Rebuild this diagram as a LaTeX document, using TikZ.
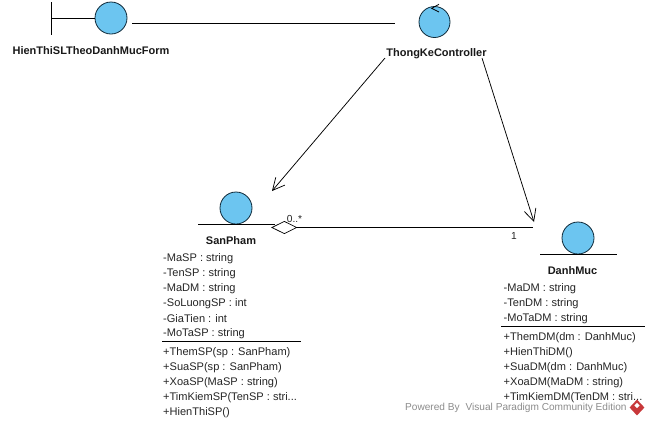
\documentclass[tikz,border=0pt]{standalone}
\usepackage{fontspec}
\setmainfont{Liberation Sans}
\usetikzlibrary{arrows.meta,shapes.geometric}
\definecolor{ballfill}{HTML}{6CC5F0}
\definecolor{ballline}{HTML}{0F2A3A}
\definecolor{wm}{HTML}{8C8C8C}
\definecolor{logored}{HTML}{C8383A}
\tikzset{
  x=1pt,y=-1pt,
  ball/.style={circle,draw=ballline,fill=ballfill,line width=0.8pt,inner sep=0pt,minimum size=#1},
  ball/.default=32pt,
  titlelabel/.style={inner sep=0pt,font=\fontsize{11}{12}\selectfont\bfseries,text=black!90},
  member/.style={inner sep=0pt,anchor=west,font=\fontsize{11.05}{12}\selectfont,text=black!85},
  rule/.style={line width=0.8pt,black},
  assoc/.style={line width=0.75pt,black},
  nav/.style={line width=0.75pt,black,-{Straight Barb[length=12pt,width=12pt,line width=0.75pt]}},
  mult/.style={inner sep=0pt,font=\fontsize{10.2}{12}\selectfont,text=black!85},
}
\begin{document}
\begin{tikzpicture}
\useasboundingbox (0,0) rectangle (649,424);
\fill[white] (0,0) rectangle (649,424);

% Boundary
\node[ball] (form) at (111,18) {};
\coordinate (formbar) at (51.5,18);
\draw[rule] (51.5,2) -- (51.5,35);
\draw[rule] (formbar) -- (form.west);
\node[titlelabel] (formlabel) at (91,50.8) {HienThiSLTheoDanhMucForm};

% Control
\node[ball=31pt] (ctrl) at (434.5,22) {};
\draw[rule] (439,4.3) -- (431.7,8.3) -- (439,12);
\node[titlelabel] (ctrllabel) at (436.5,53.3) {ThongKeController};

% SanPham
\node[ball] (sp) at (236,208) {};
\draw[rule] (198,224.5) -- (275,224.5);
\node[titlelabel] (splabel) at (231,241) {SanPham};
\foreach \n/\y/\t in {
  a1/258.3/{-MaSP : string},
  a2/273.3/{-TenSP : string},
  a3/288.3/{-MaDM : string},
  a4/303.3/{-SoLuongSP : int},
  a5/318.3/{-GiaTien : int},
  a6/333.3/{-MoTaSP : string},
  m1/352.3/{+ThemSP(sp : SanPham)},
  m2/367.3/{+SuaSP(sp : SanPham)},
  m3/382.3/{+XoaSP(MaSP : string)},
  m4/397.3/{+TimKiemSP(TenSP : stri...},
  m5/412.3/{+HienThiSP()}}
  \node[member] (sp\n) at (163,\y) {\t};
\draw[rule] (162,341.5) -- (301,341.5);

% DanhMuc
\node[ball] (dm) at (578,238) {};
\draw[rule] (540,254.5) -- (617,254.5);
\node[titlelabel] (dmlabel) at (572.5,271) {DanhMuc};
\foreach \n/\y/\t in {
  a1/288.3/{-MaDM : string},
  a2/303.3/{-TenDM : string},
  a3/318.3/{-MoTaDM : string},
  m1/337.3/{+ThemDM(dm : DanhMuc)},
  m2/352.3/{+HienThiDM()},
  m3/367.3/{+SuaDM(dm : DanhMuc)},
  m4/382.3/{+XoaDM(MaDM : string)},
  m5/397.3/{+TimKiemDM(TenDM : stri...}}
  \node[member] (dm\n) at (503.5,\y) {\t};
\draw[rule] (501,326.5) -- (645,326.5);

% Connectors
\coordinate (formend) at (132,23.5);
\coordinate (ctrlend) at (395,23.5);
\draw[assoc] (formend) -- (ctrlend);

\coordinate (navstartA) at (385,58);
\coordinate (navendA) at (272,191);
\draw[nav] (navstartA) -- (navendA);
\coordinate (navstartB) at (482,58);
\coordinate (navendB) at (534,222);
\draw[nav] (navstartB) -- (navendB);

\node[diamond,draw=black,fill=white,line width=0.7pt,inner sep=0pt,minimum width=25pt,minimum height=12.5pt] (agg) at (284.3,227.5) {};
\coordinate (aggend) at (533,227.5);
\draw[assoc] (agg.east) -- (aggend);
\node[mult] (m0) at (294.5,219) {0..*};
\node[mult] (m1) at (514,236) {1};

% Watermark
\node[inner sep=0pt,anchor=west,font=\fontsize{10.1}{12}\selectfont,text=wm] (wmtext) at (405,408) {Powered By\hspace{6pt}Visual Paradigm Community Edition};
\node[diamond,fill=logored,inner sep=0pt,minimum width=15pt,minimum height=16pt] (logo) at (637,407.5) {};
\node[diamond,fill=white,inner sep=0pt,minimum size=5.5pt] (logoin) at (637,405.5) {};
\end{tikzpicture}
\end{document}
